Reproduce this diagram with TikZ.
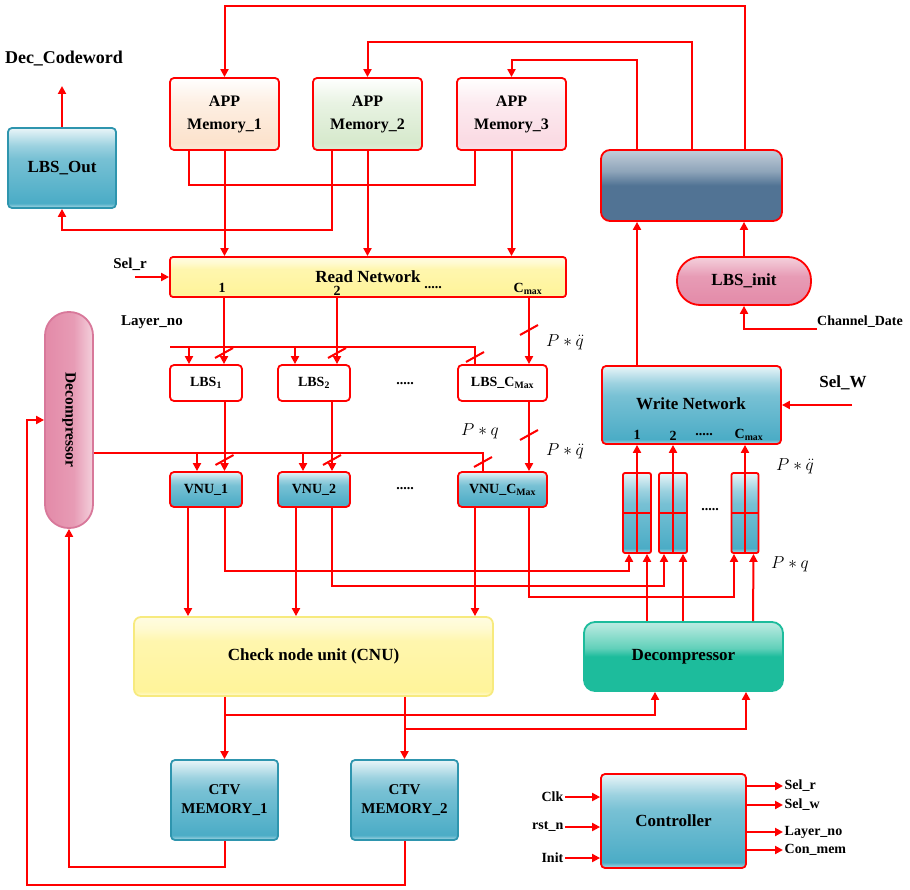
\documentclass[tikz,border=0pt]{standalone}
\usepackage{fontspec}
\setmainfont{Liberation Serif}
\usetikzlibrary{arrows.meta}
\definecolor{cyB}{HTML}{4BACC6}
\definecolor{cyD}{HTML}{2E95AE}
\definecolor{yeB}{HTML}{FFF49A}
\definecolor{yeD}{HTML}{F7EA7E}
\definecolor{pkB}{HTML}{E38AA8}
\definecolor{pkD}{HTML}{D8789A}
\definecolor{tlB}{HTML}{1DBC9C}
\definecolor{dkB}{HTML}{517394}
\definecolor{apA}{HTML}{FCE2CC}
\definecolor{apB}{HTML}{D6E9CC}
\definecolor{apC}{HTML}{FADAE3}
\pgfdeclareverticalshading{gcyan}{100bp}{color(0bp)=(cyB!45!white); color(25bp)=(cyB!45!white); color(28bp)=(cyB); color(56bp)=(cyB!75!white); color(64bp)=(cyB!55!white); color(75bp)=(cyB!12!white); color(100bp)=(cyB!12!white)}
\pgfdeclareverticalshading{gyel}{100bp}{color(0bp)=(yeB!40!white); color(25bp)=(yeB!40!white); color(28bp)=(yeB); color(60bp)=(yeB!80!white); color(68bp)=(yeB!45!white); color(75bp)=(yeB!30!white); color(100bp)=(yeB!30!white)}
\pgfdeclareverticalshading{gpink}{100bp}{color(0bp)=(pkB); color(25bp)=(pkB); color(55bp)=(pkB!85!white); color(66bp)=(pkB!60!white); color(75bp)=(pkB!40!white); color(100bp)=(pkB!40!white)}
\pgfdeclareverticalshading{gteal}{100bp}{color(0bp)=(tlB); color(25bp)=(tlB); color(50bp)=(tlB); color(56bp)=(tlB!70!white); color(72bp)=(tlB!35!white); color(75bp)=(tlB!30!white); color(100bp)=(tlB!30!white)}
\pgfdeclareverticalshading{gdark}{100bp}{color(0bp)=(dkB); color(25bp)=(dkB); color(50bp)=(dkB); color(60bp)=(dkB!65!white); color(75bp)=(dkB!35!white); color(100bp)=(dkB!35!white)}
\pgfdeclareverticalshading{gapA}{100bp}{color(0bp)=(apA); color(25bp)=(apA!80!white); color(30bp)=(apA); color(58bp)=(apA!55!white); color(75bp)=(white); color(100bp)=(white)}
\pgfdeclareverticalshading{gapB}{100bp}{color(0bp)=(apB); color(25bp)=(apB!80!white); color(30bp)=(apB); color(58bp)=(apB!55!white); color(75bp)=(white); color(100bp)=(white)}
\pgfdeclareverticalshading{gapC}{100bp}{color(0bp)=(apC); color(25bp)=(apC!80!white); color(30bp)=(apC); color(58bp)=(apC!55!white); color(75bp)=(white); color(100bp)=(white)}
\newcommand\fsz[2]{\fontsize{#1}{#2}\selectfont\bfseries}
\begin{document}
\begin{tikzpicture}[x=1pt,y=-1pt,
  ln/.style={draw=red, line width=2pt},
  arr/.style={ln, -{Triangle[length=8pt,width=8pt]}},
  blk/.style={draw=red, line width=1.8pt, rounded corners=4pt, align=center, inner sep=0pt, shade},
  cybox/.style={blk, shading=gcyan},
  lbl/.style={inner sep=1.5pt, font=\fsz{14}{17}},
  pq/.style={inner sep=0pt, font=\fontsize{16}{18}\selectfont},
  regbox/.style={draw=red, line width=1.8pt, rounded corners=2pt, shade, shading=gcyan,
    minimum width=28pt, minimum height=80pt, inner sep=0pt,
    path picture={\draw[red,line width=2pt] (path picture bounding box.north) -- (path picture bounding box.south);
                  \draw[red,line width=2pt] (path picture bounding box.west) -- (path picture bounding box.east);}},
]
\useasboundingbox (0,0) rectangle (910,890);

% ---------- nodes ----------
\node[lbl, font=\fsz{18}{20}] (deccw) at (64,59) {Dec\_Codeword};
\coordinate (deccwtip) at (62,86);
\node[cybox, draw=cyD, minimum width=108pt, minimum height=80pt, font=\fsz{17}{20}] (lbsout) at (62,168) {LBS\_Out};

\node[blk, shading=gapA, minimum width=109pt, minimum height=72pt, font=\fsz{16}{23}] (app1) at (224.5,114) {APP\\Memory\_1};
\node[blk, shading=gapB, minimum width=109pt, minimum height=72pt, font=\fsz{16}{23}] (app2) at (367.5,114) {APP\\Memory\_2};
\node[blk, shading=gapC, minimum width=109pt, minimum height=72pt, font=\fsz{16}{23}] (app3) at (511.5,114) {APP\\Memory\_3};

\node[blk, shading=gdark, rounded corners=9pt, minimum width=181pt, minimum height=71pt] (dark) at (691.5,185.5) {};
\node[blk, shading=gpink, rounded corners=23pt, minimum width=134pt, minimum height=48pt, font=\fsz{17}{20}] (lbsinit) at (744,281) {LBS\_init};
\node[lbl, anchor=base west, inner sep=0pt] (chan) at (817,326) {Channel\_Date};

\node[blk, shading=gyel, rounded corners=3pt, minimum width=396pt, minimum height=40pt] (readnet) at (368,277) {};
\node[lbl, font=\fsz{17}{20}] (rntxt) at (368,277) {Read Network};
\node[lbl] (rn1) at (222,288) {1};
\node[lbl] (rn2) at (337,291) {2};
\node[lbl] (rndots) at (433,288) {.....};
\node[lbl] (rnc) at (528,289) {C\textsubscript{max}};
\node[lbl, font=\fsz{15}{18}] (selr) at (130,264) {Sel\_r};
\coordinate (selrtail) at (135,277);

\node[lbl, font=\fsz{15}{18}] (layerno) at (152,322) {Layer\_no};
\coordinate (lnstart) at (170,347);

\node[blk, shade=false, fill=white, minimum width=72pt, minimum height=36pt, font=\fsz{14}{17}] (lbs1) at (206,383) {LBS\textsubscript{1}};
\node[blk, shade=false, fill=white, minimum width=72pt, minimum height=36pt, font=\fsz{14}{17}] (lbs2) at (314,383) {LBS\textsubscript{2}};
\node[blk, shade=false, fill=white, minimum width=89pt, minimum height=36pt, font=\fsz{14}{17}] (lbsc) at (502.5,383) {LBS\_C\textsubscript{Max}};
\node[lbl] (lbsdots) at (405,384) {.....};

\node[cybox, minimum width=72pt, minimum height=35pt, font=\fsz{14}{17}] (vnu1) at (206,489.5) {VNU\_1};
\node[cybox, minimum width=72pt, minimum height=35pt, font=\fsz{14}{17}] (vnu2) at (314,489.5) {VNU\_2};
\node[cybox, minimum width=89pt, minimum height=35pt, font=\fsz{14}{17}] (vnuc) at (502.5,489.5) {VNU\_C\textsubscript{Max}};
\node[lbl] (vnudots) at (405,489) {.....};

\node[blk, draw=pkD, shading=gpink, shading angle=-90, rounded corners=23.5pt, minimum width=48pt, minimum height=216pt] (decl) at (69,420) {};
\node[lbl, rotate=-90, font=\fsz{15.5}{18}] (decltxt) at (decl.center) {Decompressor};

\node[pq] (pq1) at (565,342) {$P*\ddot{q}$};
\node[pq] (pq2) at (480,431) {$P*q$};
\node[pq] (pq3) at (565,451) {$P*\ddot{q}$};

\node[cybox, minimum width=179pt, minimum height=78pt] (writenet) at (691.5,405) {};
\node[lbl, font=\fsz{17}{20}] (wntxt) at (691,404) {Write Network};
\node[lbl] (wn1) at (637,435) {1};
\node[lbl] (wn2) at (673,436) {2};
\node[lbl] (wndots) at (704,435) {.....};
\node[lbl] (wnc) at (749,435) {C\textsubscript{max}};
\node[lbl, font=\fsz{17}{20}] (selw) at (843,383) {Sel\_W};
\coordinate (selwtail) at (852,405);

\node[regbox] (reg1) at (637,513) {};
\node[regbox] (reg2) at (673,513) {};
\node[regbox, minimum width=27pt] (reg3) at (745,513) {};
\node[lbl] (regdots) at (710,510) {.....};
\node[pq] (pq4) at (795,466) {$P*\ddot{q}$};
\node[pq] (pq5) at (790,564) {$P*q$};

\node[blk, draw=yeD, shading=gyel, rounded corners=7pt, minimum width=359pt, minimum height=79pt, font=\fsz{17}{20}] (cnu) at (313.5,656.5) {Check node unit (CNU)};
\node[blk, draw=tlB, shading=gteal, rounded corners=11pt, minimum width=199pt, minimum height=69pt, font=\fsz{17}{20}] (decr) at (683.5,656.5) {Decompressor};

\node[cybox, draw=cyD, minimum width=107pt, minimum height=80pt, font=\fsz{15}{19}] (ctv1) at (224.5,800) {CTV\\MEMORY\_1};
\node[cybox, draw=cyD, minimum width=107pt, minimum height=80pt, font=\fsz{15}{19}] (ctv2) at (404.5,800) {CTV\\MEMORY\_2};

\node[cybox, minimum width=145pt, minimum height=94pt, font=\fsz{17}{20}] (ctrl) at (673.5,821) {Controller};
\node[lbl, anchor=east] (clk) at (565,797) {Clk};
\node[lbl, anchor=east] (rst) at (565,827) {rst\_n};
\node[lbl, anchor=east] (init) at (565,858) {Init};
\node[lbl, anchor=west] (osr) at (783,786) {Sel\_r};
\node[lbl, anchor=west] (osw) at (783,805) {Sel\_w};
\node[lbl, anchor=west] (oln) at (783,832) {Layer\_no};
\node[lbl, anchor=west] (ocm) at (783,850) {Con\_mem};

% ---------- connectors ----------
% top feedback into APP memories
\draw[arr] ([xshift=53.5pt]dark.north) |- (224.5,6) -- (app1.north);
\draw[arr] ([xshift=0.5pt]dark.north) |- (367.5,42) -- (app2.north);
\draw[arr] ([xshift=-54.5pt]dark.north) |- (511.5,60) -- (app3.north);
\draw[arr] ([xshift=-54.5pt]writenet.north) -- ([xshift=-54.5pt]dark.south);
\draw[arr] (lbsinit.north) -- (lbsinit.north |- dark.south);
\draw[arr] (chan.base west) ++(0,3) -| (lbsinit.south);

% APP memory to read network
\draw[arr] (app1.south) -- (app1.south |- readnet.north);
\draw[arr] (app2.south) -- (app2.south |- readnet.north);
\draw[arr] (app3.south) -- (app3.south |- readnet.north);
\draw[ln] ([xshift=-35.5pt]app1.south) |- (475,185) -- ([xshift=-36.5pt]app3.south);
\draw[arr] ([xshift=-35.5pt]app2.south) |- (62,230) -- (lbsout.south);
\draw[arr] (lbsout.north) -- (deccwtip);
\draw[arr] (selrtail) -- (readnet.west);

% read network to LBS
\draw[arr] ([xshift=-144pt]readnet.south) -- ([xshift=-144pt]readnet.south |- lbs1.north);
\draw[arr] ([xshift=-31pt]readnet.south) -- ([xshift=-31pt]readnet.south |- lbs2.north);
\draw[arr] ([xshift=161pt]readnet.south) -- ([xshift=161pt]readnet.south |- lbsc.north);
\draw[ln] (lnstart) -| ([xshift=-27.5pt]lbsc.north);
\draw[arr] (189,347) -- ([xshift=-17pt]lbs1.north);
\draw[arr] (295,347) -- ([xshift=-19pt]lbs2.north);
% slashes
\draw[ln] (224,353) ++(-9,5) -- ++(18,-10);
\draw[ln] (337,353) ++(-9,5) -- ++(18,-10);
\draw[ln] (529,330) ++(-9,5) -- ++(18,-10);
\draw[ln] (475,357) ++(-9,5) -- ++(18,-10);

% LBS to VNU
\draw[arr] ([xshift=18.5pt]lbs1.south) -- ([xshift=18.5pt]lbs1.south |- vnu1.north);
\draw[arr] ([xshift=18pt]lbs2.south) -- ([xshift=18pt]lbs2.south |- vnu2.north);
\draw[arr] ([xshift=26.5pt]lbsc.south) -- ([xshift=26.5pt]lbsc.south |- vnuc.north);
\draw[ln] ([yshift=-33pt]decl.east) -| ([xshift=-19.5pt]vnuc.north);
\draw[arr] (197,453) -- ([xshift=-9pt]vnu1.north);
\draw[arr] (303,453) -- ([xshift=-11pt]vnu2.north);
\draw[ln] (224.5,460) ++(-9,5) -- ++(18,-10);
\draw[ln] (332,460) ++(-9,5) -- ++(18,-10);
\draw[ln] (529,435) ++(-9,5) -- ++(18,-10);
\draw[ln] (483,462) ++(-9,5) -- ++(18,-10);

% VNU outputs
\draw[arr] ([xshift=-18pt]vnu1.south) -- ([xshift=-18pt]vnu1.south |- cnu.north);
\draw[arr] ([xshift=-18pt]vnu2.south) -- ([xshift=-18pt]vnu2.south |- cnu.north);
\draw[arr] ([xshift=-27.5pt]vnuc.south) -- ([xshift=-27.5pt]vnuc.south |- cnu.north);
\draw[arr] ([xshift=18.5pt]vnu1.south) |- (629,571) -- ([xshift=-8pt]reg1.south);
\draw[arr] ([xshift=18pt]vnu2.south) |- (664,586) -- ([xshift=-9pt]reg2.south);
\draw[arr] ([xshift=26.5pt]vnuc.south) |- (734,597) -- ([xshift=-11pt]reg3.south);

% decompressor to registers
\draw[arr] ([xshift=-36.5pt]decr.north) -- ([xshift=10pt]reg1.south);
\draw[arr] ([xshift=-0.5pt]decr.north) -- ([xshift=10pt]reg2.south);
\draw[arr] ([xshift=69.5pt]decr.north) -- ([xshift=8.5pt]reg3.south);

% registers to write network
\draw[arr] (reg1.north) -- (reg1.north |- writenet.south);
\draw[arr] (reg2.north) -- (reg2.north |- writenet.south);
\draw[arr] (reg3.north) -- (reg3.north |- writenet.south);
\draw[arr] (selwtail) -- (writenet.east);

% CNU outputs
\draw[arr] ([xshift=-89pt]cnu.south) -- (ctv1.north);
\draw[arr] ([xshift=91pt]cnu.south) -- (ctv2.north);
\draw[arr] (224.5,715) -| ([xshift=-28.5pt]decr.south);
\draw[arr] (404.5,729) -| ([xshift=62.5pt]decr.south);

% CTV feedback to left decompressor
\draw[arr] (ctv1.south) |- (69,867) -- (decl.south);
\draw[arr] (ctv2.south) |- (27,885) |- (decl.west);

% controller
\draw[arr] (clk.east) -- (clk.east -| ctrl.west);
\draw[arr] (rst.east) -- (rst.east -| ctrl.west);
\draw[arr] (init.east) -- (init.east -| ctrl.west);
\draw[arr] (osr.west -| ctrl.east) -- (osr.west);
\draw[arr] (osw.west -| ctrl.east) -- (osw.west);
\draw[arr] (oln.west -| ctrl.east) -- (oln.west);
\draw[arr] (ocm.west -| ctrl.east) -- (ocm.west);
\end{tikzpicture}
\end{document}
